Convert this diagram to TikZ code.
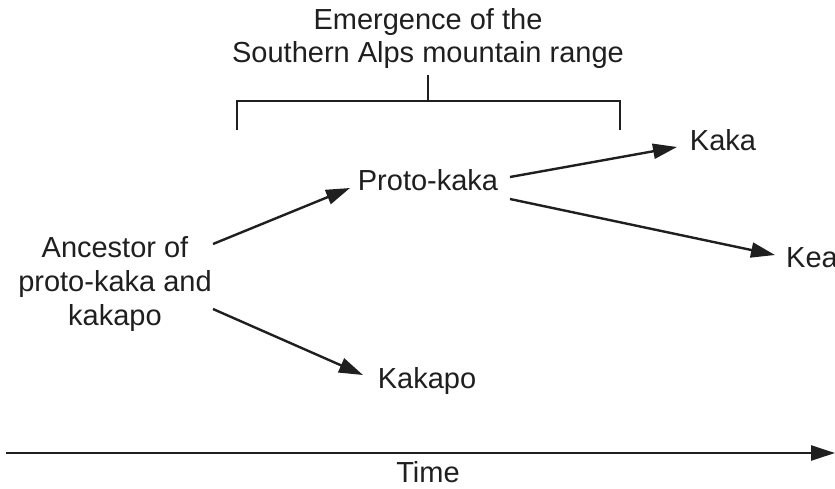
\documentclass[tikz,border=0pt]{standalone}
\usepackage{fontspec}
\setmainfont{Liberation Sans}
\usetikzlibrary{arrows.meta}
\begin{document}
\begin{tikzpicture}[x=1pt,y=-1pt,
  lbl/.style={inner sep=0pt,font=\fontsize{29}{34}\selectfont,text=black!88,align=center},
  arr/.style={line width=2.4pt,draw=black!88,-{Triangle[length=24pt,width=15pt]}},
  brk/.style={line width=2.4pt,draw=black!88}]
\useasboundingbox (0,0) rectangle (835,488);
\fill[white] (0,0) rectangle (835,488);
\node[lbl,font=\fontsize{29}{33}\selectfont] (emg) at (428,38) {Emergence of the\\Southern Alps mountain range};
\node[lbl] (anc) at (115,284) {Ancestor of\\proto-kaka and\\kakapo};
\node[lbl] (proto) at (428,180) {Proto-kaka};
\node[lbl] (kaka) at (723,140) {Kaka};
\node[lbl,anchor=west] (kea) at (786,258) {Kea};
\node[lbl] (kakapo) at (427,381) {Kakapo};
\node[lbl] (time) at (428,472) {Time};
% bracket
\coordinate (b0) at (428,75);
\coordinate (b1) at (428,101);
\coordinate (bl) at (237,101);
\coordinate (br) at (620,101);
\draw[brk] (b0) -- (b1);
\draw[brk] (237,130) -- (bl) -- (br) -- (620,130);
% arrows
\coordinate (a1) at (213,244);
\coordinate (a2) at (213,309);
\coordinate (p1) at (510,177);
\coordinate (p2) at (510,199);
\coordinate (t0) at (6,453);
\coordinate (t1) at (835,453);
\draw[arr] (a1) -- (350,188);
\draw[arr] (a2) -- (363,375);
\draw[arr] (p1) -- (677,147);
\draw[arr] (p2) -- (775,255);
\draw[arr] (t0) -- (t1);
\end{tikzpicture}
\end{document}
